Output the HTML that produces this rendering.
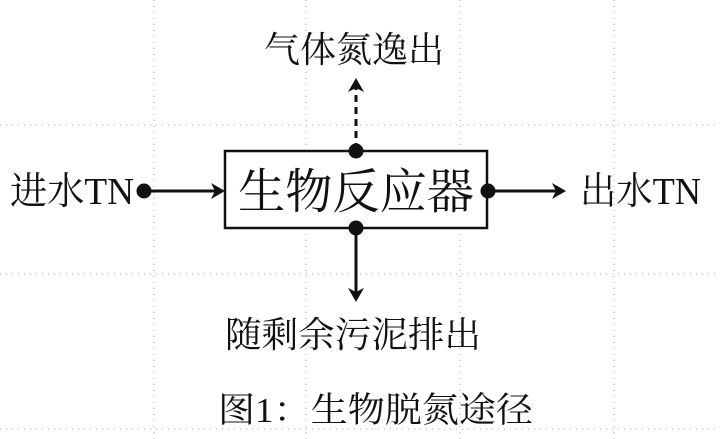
<!DOCTYPE html>
<html><head><meta charset="utf-8"><style>
html,body{margin:0;padding:0;background:#fff;width:720px;height:439px;overflow:hidden}
svg{display:block}
text{font-family:"Liberation Serif","Noto Serif CJK SC",serif;fill:#111}
</style></head><body>
<svg width="720" height="439" viewBox="0 0 720 439">
<g stroke="#aaa" stroke-width="1" stroke-dasharray="1 5">
<line x1="154" y1="0" x2="154" y2="439"/>
<line x1="306" y1="0" x2="306" y2="439"/>
<line x1="460" y1="0" x2="460" y2="439"/>
<line x1="614" y1="0" x2="614" y2="439"/>
<line x1="0" y1="125" x2="720" y2="125"/>
<line x1="0" y1="274" x2="720" y2="274"/>
<line x1="0" y1="429" x2="720" y2="429"/>
</g>
<rect x="225" y="151" width="262" height="77" fill="#fff" stroke="#111" stroke-width="2.5"/>
<text x="356" y="208" font-size="48" text-anchor="middle" textLength="236" lengthAdjust="spacingAndGlyphs">生物反应器</text>
<g stroke="#111" stroke-width="3" fill="none">
<line x1="145" y1="191" x2="220" y2="191"/>
<line x1="488" y1="191" x2="560" y2="191"/>
<line x1="356" y1="228" x2="356" y2="296"/>
<line x1="356" y1="150" x2="356" y2="86" stroke-dasharray="7 5"/>
</g>
<g fill="#111">
<polygon points="225,191 211,183 215,191 211,199"/>
<polygon points="566,191 552,183 556,191 552,199"/>
<polygon points="356,302 348,288 356,292 364,288"/>
<polygon points="356,78 348,92 356,88 364,92"/>
<circle cx="144" cy="191" r="7.5"/>
<circle cx="488" cy="191" r="7.5"/>
<circle cx="356" cy="151" r="7.5"/>
<circle cx="356" cy="228" r="7.5"/>
</g>
<text x="10" y="204" font-size="38" textLength="124" lengthAdjust="spacingAndGlyphs">进水TN</text>
<text x="580" y="204" font-size="38" textLength="121" lengthAdjust="spacingAndGlyphs">出水TN</text>
<text x="264" y="62" font-size="36" textLength="180" lengthAdjust="spacingAndGlyphs">气体氮逸出</text>
<text x="225" y="347" font-size="36" textLength="256" lengthAdjust="spacingAndGlyphs">随剩余污泥排出</text>
<text x="218" y="422" font-size="35" textLength="315" lengthAdjust="spacingAndGlyphs">图1：生物脱氮途径</text>
</svg>
</body></html>
